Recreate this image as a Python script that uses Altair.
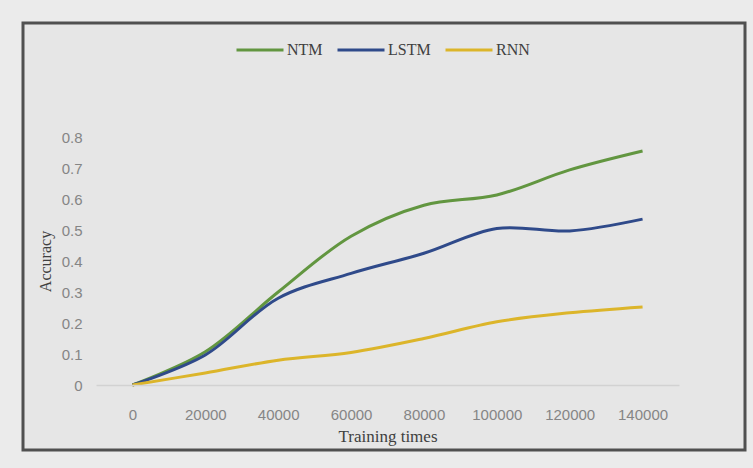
import altair as alt
import pandas as pd

training_times = [0, 20000, 40000, 60000, 80000, 100000, 120000, 140000]
ntm = [0, 0.107, 0.30, 0.48, 0.58, 0.613, 0.694, 0.755]
lstm = [0, 0.097, 0.28, 0.36, 0.425, 0.505, 0.497, 0.535]
rnn = [0, 0.039, 0.08, 0.105, 0.15, 0.204, 0.233, 0.252]
series_names = ["NTM", "LSTM", "RNN"]
series_colors = ["#629640", "#2f4a8a", "#dcb52a"]
x_ticks = [0, 20000, 40000, 60000, 80000, 100000, 120000, 140000]
y_ticks = [0, 0.1, 0.2, 0.3, 0.4, 0.5, 0.6, 0.7, 0.8]

rows = []
for name, vals in zip(series_names, [ntm, lstm, rnn]):
    for t, v in zip(training_times, vals):
        rows.append({"Training times": t, "Accuracy": v, "Model": name})
df = pd.DataFrame(rows)

W, H = 583, 248
PL, PT = 96, 137

frame = alt.Chart(alt.Data(values=[{}])).mark_rect(
    fill="#e6e6e6", stroke="#505050", strokeWidth=3
).encode(
    x=alt.value(23 - PL), x2=alt.value(745 - PL),
    y=alt.value(23 - PT), y2=alt.value(450 - PT),
)

lines = alt.Chart(df).mark_line(strokeWidth=3, interpolate="catmull-rom").encode(
    x=alt.X(
        "Training times:Q",
        scale=alt.Scale(domain=[-10000, 150000], nice=False, zero=False),
        axis=alt.Axis(
            values=x_ticks, format="d", ticks=False, grid=False, zindex=1,
            domainColor="#d2d2d2", domainWidth=1.5,
            labelFont="Liberation Sans", labelFontSize=15, labelColor="#858585",
            labelPadding=22,
            title="Training times", titleFont="Liberation Serif", titleFontSize=17,
            titleFontWeight="normal", titleColor="#404040",
            titleX=W / 2, titleY=51, titleBaseline="middle", titleAlign="center",
        ),
    ),
    y=alt.Y(
        "Accuracy:Q",
        scale=alt.Scale(domain=[0, 0.8], nice=False),
        axis=alt.Axis(
            values=y_ticks, format="~g", ticks=False, grid=False, domain=False, zindex=1,
            labelFont="Liberation Sans", labelFontSize=15, labelColor="#858585",
            labelPadding=14,
            title="Accuracy", titleFont="Liberation Serif", titleFontSize=16,
            titleFontWeight="normal", titleColor="#404040",
            titleX=45 - PL, titleY=H / 2, titleAngle=-90,
            titleBaseline="middle", titleAlign="center",
        ),
    ),
    color=alt.Color(
        "Model:N",
        scale=alt.Scale(domain=series_names, range=series_colors),
        legend=alt.Legend(
            orient="none", direction="horizontal", title=None,
            legendX=235 - PL, legendY=48 - 23 - PT,
            symbolType="stroke", symbolSize=2209, symbolStrokeWidth=3,
            labelFont="Liberation Serif", labelFontSize=16, labelColor="#404040",
            labelOffset=2, columnPadding=8,
        ),
    ),
)

chart = alt.layer(frame, lines).properties(
    width=W, height=H,
    background="#ebebeb",
    padding={"left": PL, "top": PT, "right": 753 - PL - W, "bottom": 468 - PT - H},
    autosize=alt.AutoSizeParams(type="none"),
).configure_view(strokeWidth=0)

chart.save("out.html", embed_options={"renderer": "svg", "actions": False})
